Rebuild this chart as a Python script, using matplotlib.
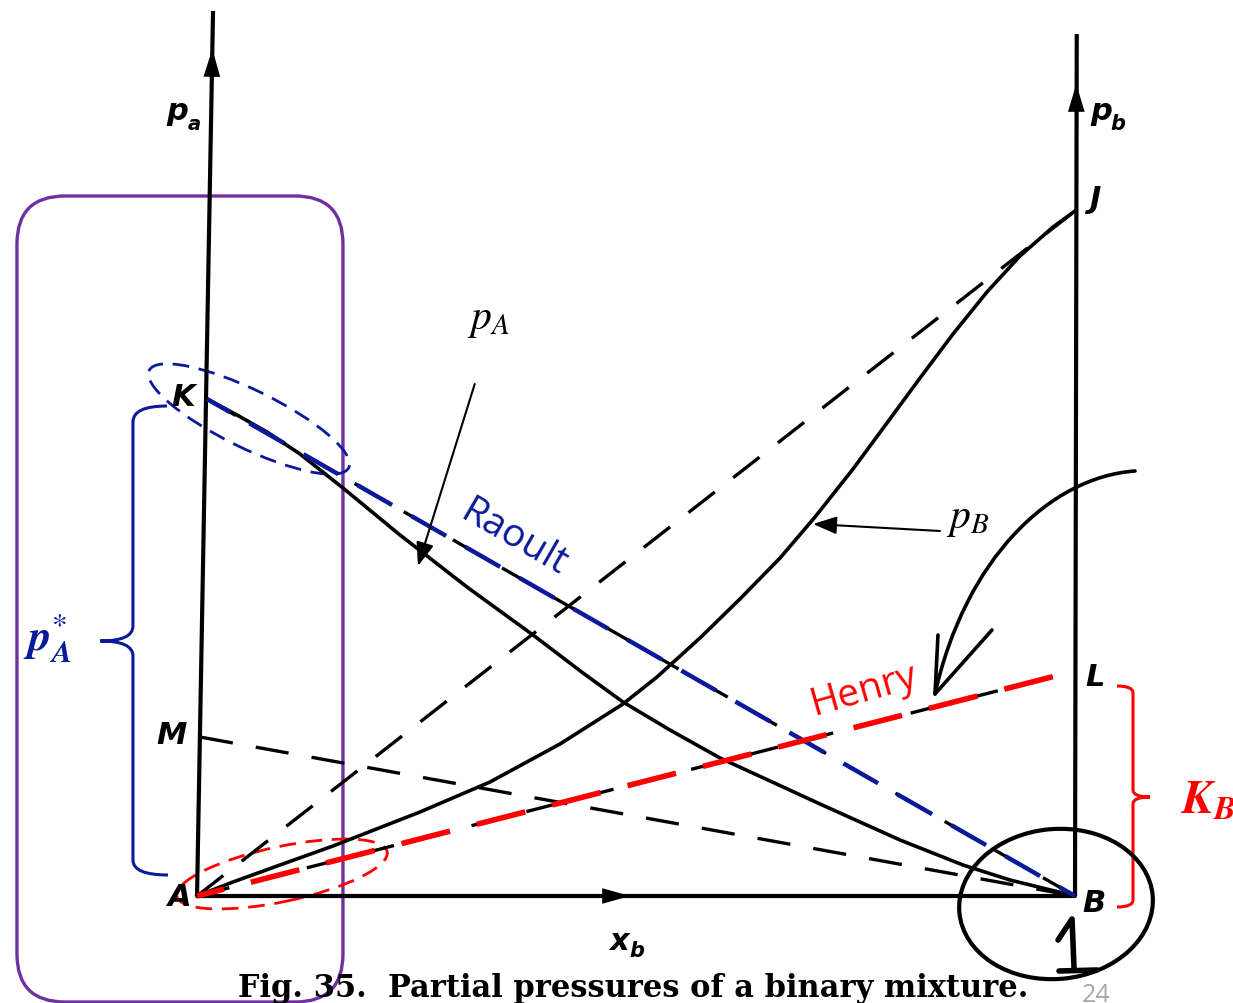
import matplotlib.pyplot as plt
from matplotlib.patches import Ellipse, FancyBboxPatch, PathPatch
from matplotlib.path import Path
from matplotlib.transforms import Affine2D, ScaledTranslation

plt.rcParams['mathtext.fontset'] = 'stix'

# mole fraction of B and the two partial pressures (arbitrary pressure units)
xb_pa = [0.008, 0.0423, 0.0766, 0.1143, 0.1634, 0.2286, 0.3051, 0.3806,
         0.4377, 0.4834, 0.5371, 0.5943, 0.7086, 0.800, 0.872, 0.9257, 1.0]
pa = [49.7, 48.1, 46.4, 44.2, 40.8, 36.1, 30.9, 26.1,
      22.3, 19.4, 16.6, 13.8, 9.2, 5.6, 3.1, 1.6, 0.0]

xb_pb = [-0.0034, 0.0377, 0.0914, 0.152, 0.2514, 0.3314, 0.4114, 0.4834,
         0.5223, 0.5714, 0.6171, 0.6629, 0.7029, 0.7463, 0.7851, 0.8229,
         0.8606, 0.8994, 0.9371, 0.9749, 1.0]
pb = [0.0, 1.4, 3.1, 5.0, 8.4, 11.4, 15.2, 19.2,
      21.9, 25.8, 29.7, 33.8, 37.9, 42.7, 47.3, 51.8,
      56.2, 60.4, 64.0, 66.9, 68.5]

# lettered points of the diagram
pt_name = ['A', 'B', 'K', 'M', 'J', 'L']
pt_x = [-0.0034, 1.0, 0.008, 0.0, 1.0, 1.0]
pt_p = [0.0, 0.0, 49.7, 15.9, 68.5, 22.5]
P = {n: (x, p) for n, x, p in zip(pt_name, pt_x, pt_p)}

# straight dashed lines: Raoult (K-B), ideal B (A-J), ideal A (M-B), Henry (A-L)
dashed = [('K', 'B'), ('A', 'J'), ('M', 'B'), ('A', 'L')]

blue = '#0a1a9a'
red = '#ff0000'
purple = '#7030a0'

fig = plt.figure(figsize=(12.33, 10.04), dpi=100)
ax = fig.add_axes([0, 0, 1, 1])
ax.set_xlim(-0.22857, 1.18057)
ax.set_ylim(-10.7, 89.7)
ax.axis('off')


def at(x, y):
    # shapes sized in pixels, anchored at a data point
    return Affine2D() + ScaledTranslation(x, y, ax.transData)


def head(tip, base, ms=20, hl=1.0, hw=0.3):
    ax.annotate('', xy=tip, xytext=base,
                arrowprops=dict(arrowstyle='-|>,head_length=%s,head_width=%s' % (hl, hw),
                                mutation_scale=ms, color='k', lw=0.01,
                                shrinkA=0, shrinkB=0))


# axes of the diagram
ax.plot([-0.0034, 0.0149], [0.0, 88.5], color='k', lw=3.0, solid_capstyle='butt')
ax.plot([1.0, 1.002], [0.0, 86.2], color='k', lw=3.0, solid_capstyle='butt')
ax.plot([-0.0034, 1.0], [0.0, 0.0], color='k', lw=3.0, solid_capstyle='butt')
head((0.0141, 84.7), (0.0135, 81.7))
head((1.0015, 81.2), (1.0015, 79.0))
head((0.4914, 0.0), (0.4606, 0.0), hw=0.28)

# dashed limiting lines
for a, b in dashed:
    ax.plot([P[a][0], P[b][0]], [P[a][1], P[b][1]], color='k', lw=2.4,
            linestyle=(0, (10, 7)))

# partial pressure curves
ax.plot(xb_pa, pa, color='k', lw=2.6, solid_joinstyle='round')
ax.plot(xb_pb, pb, color='k', lw=2.6, solid_joinstyle='round')

# Raoult and Henry overlays
ax.plot([P['K'][0], P['B'][0]], [P['K'][1], P['B'][1]], color=blue, lw=3.2,
        linestyle=(3, (9, 5)))
ax.plot([P['A'][0], P['L'][0]], [P['A'][1], P['L'][1]], color=red, lw=4.0,
        linestyle=(4, (9, 5)))
ax.text(0.358, 35.9, 'Raoult', color=blue, fontsize=28, family='Open Sans',
        rotation=-30, rotation_mode='anchor', ha='center', va='center')
ax.text(0.758, 20.6, 'Henry', color=red, fontsize=28, family='Open Sans',
        rotation=16, rotation_mode='anchor', ha='center', va='center')

# point letters and axis names
lab = dict(fontsize=22, weight='bold', style='italic', family='DejaVu Sans',
           ha='center', va='center')
ax.text(-0.0194, 49.9, 'K', **lab)
ax.text(-0.032, 16.2, 'M', **lab)
ax.text(-0.0229, -0.1, 'A', **lab)
ax.text(1.0217, -0.7, 'B', **lab)
ax.text(1.0229, 69.7, 'J', **lab)
ax.text(1.0229, 21.9, 'L', **lab)
ax.text(-0.0263, 78.6, 'p', **lab)
ax.text(-0.0069, 77.2, 'a', **dict(lab, fontsize=14))
ax.text(1.0297, 78.6, 'p', **lab)
ax.text(1.0490, 77.3, 'b', **dict(lab, fontsize=15))
ax.text(0.4789, -4.5, 'x', **lab)
ax.text(0.4994, -5.4, 'b', **dict(lab, fontsize=15))

# curve labels with pointers
ax.text(0.330, 57.8, r'$p_A$', fontsize=30, ha='center', va='center')
ax.annotate('', xy=(0.2491, 33.0), xytext=(0.314, 51.2),
            arrowprops=dict(arrowstyle='-|>,head_length=0.8,head_width=0.3',
                            mutation_scale=18, color='k', lw=1.5,
                            shrinkA=0, shrinkB=0))
ax.text(0.8777, 37.9, r'$p_B$', fontsize=30, ha='center', va='center')
ax.annotate('', xy=(0.7006, 37.2), xytext=(0.8457, 36.5),
            arrowprops=dict(arrowstyle='-|>,head_length=0.8,head_width=0.3',
                            mutation_scale=18, color='k', lw=1.5,
                            shrinkA=0, shrinkB=0))

# highlight box around the pure-A side
ax.add_patch(FancyBboxPatch((-163, -403), 326, 806,
                            boxstyle='round,pad=0,rounding_size=48',
                            transform=at(-0.0229, 29.7), fill=False,
                            ec=purple, lw=2.4, clip_on=False))

# dashed ellipses at the two ends where the limiting laws hold
ax.add_patch(Ellipse((0, 0), 222, 58, angle=-26, transform=at(0.056, 47.7),
                     fill=False, ec=blue, lw=2.0, linestyle=(0, (6, 3.5))))
ax.add_patch(Ellipse((0, 0), 215, 55, angle=12, transform=at(0.0937, 2.2),
                     fill=False, ec=red, lw=2.0, linestyle=(0, (6, 3.5))))

# brace for p*_A
brace = Path([(-0.0377, 49.0), (-0.0766, 49.0), (-0.0766, 47.4),
              (-0.0766, 27.0), (-0.0766, 25.5), (-0.114, 25.5),
              (-0.0766, 25.5), (-0.0766, 24.0),
              (-0.0766, 3.6), (-0.0766, 2.1), (-0.0366, 2.1)],
             [Path.MOVETO, Path.CURVE3, Path.CURVE3,
              Path.LINETO, Path.CURVE3, Path.CURVE3,
              Path.CURVE3, Path.CURVE3,
              Path.LINETO, Path.CURVE3, Path.CURVE3])
ax.add_patch(PathPatch(brace, fill=False, ec=blue, lw=2.2))
ax.text(-0.174, 26.0, r'$\mathbfit{p}_{\mathbfit{A}}^{*}$', color=blue,
        fontsize=32, ha='center', va='center')

# bracket for K_B
bracket = Path([(1.0480, 21.0), (1.0663, 21.0), (1.0663, 20.3),
                (1.0663, 10.6), (1.0663, 9.9), (1.0857, 9.9),
                (1.0663, 9.9), (1.0663, 9.2),
                (1.0663, -0.4), (1.0663, -1.1), (1.0480, -1.1)],
               [Path.MOVETO, Path.CURVE3, Path.CURVE3,
                Path.LINETO, Path.CURVE3, Path.CURVE3,
                Path.CURVE3, Path.CURVE3,
                Path.LINETO, Path.CURVE3, Path.CURVE3])
ax.add_patch(PathPatch(bracket, fill=False, ec=red, lw=2.2, clip_on=False))
ax.text(1.1200, 9.6, r'$\mathbfit{K}_{\mathbfit{B}}$', color=red,
        fontsize=34, ha='left', va='center', clip_on=False)

# pen marks: circle round B with a "1", and the arrow onto Henry's line
ax.add_patch(Ellipse((0, 0), 194, 150, angle=5, transform=at(0.9783, -0.8),
                     fill=False, ec='k', lw=3.0, clip_on=False))
ax.plot([0.9806, 0.9966, 0.9989], [-4.4, -2.3, -7.2], color='k', lw=4.0,
        solid_joinstyle='round', solid_capstyle='round')
ax.plot([0.9817, 1.0251], [-7.5, -7.4], color='k', lw=4.0, solid_capstyle='round')

pen = Path([(1.0686, 42.5), (0.9714, 41.9), (0.8743, 33.7), (0.840, 20.2)],
           [Path.MOVETO, Path.CURVE4, Path.CURVE4, Path.CURVE4])
ax.add_patch(PathPatch(pen, fill=False, ec='k', lw=2.6, capstyle='round'))
ax.plot([0.8434, 0.840, 0.9051], [26.1, 20.2, 26.6], color='k', lw=2.6,
        solid_joinstyle='round', solid_capstyle='round')

# caption and page number
ax.text(0.0434, -10.0, 'Fig. 35.  Partial pressures of a binary mixture.',
        family='DejaVu Serif', weight='bold', fontsize=22, va='baseline', ha='left')
ax.text(1.024, -10.5, '24', color='#a6a6a6', fontsize=18, family='Open Sans',
        ha='center', va='baseline')

fig.savefig('out.png', dpi=100)
